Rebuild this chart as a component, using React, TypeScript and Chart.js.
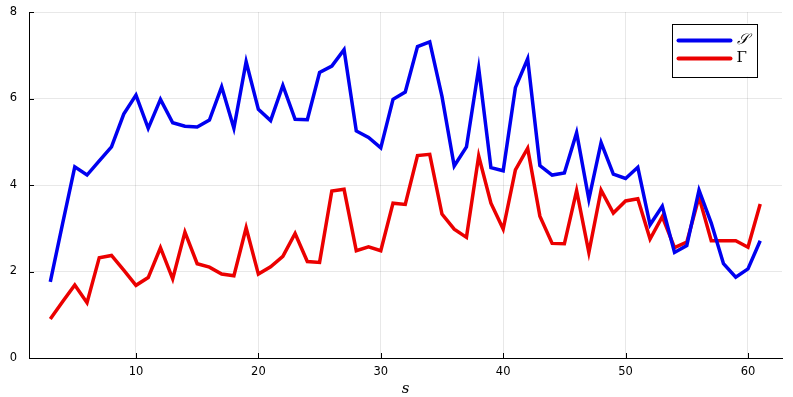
import React, { useEffect, useRef } from "react";
import { Chart, registerables } from "chart.js";

Chart.register(...registerables);

const sValues: number[] = Array.from({ length: 59 }, (_, i) => i + 3);
const seriesS: number[] = [
  1.76, 3.10, 4.42, 4.23, 4.56, 4.88, 5.64, 6.08, 5.31, 5.98,
  5.44, 5.36, 5.34, 5.50, 6.27, 5.31, 6.85, 5.75, 5.49, 6.30,
  5.52, 5.51, 6.60, 6.75, 7.13, 5.25, 5.10, 4.86, 5.98, 6.15,
  7.20, 7.31, 6.05, 4.44, 4.88, 6.70, 4.40, 4.33, 6.25, 6.92,
  4.45, 4.23, 4.28, 5.21, 3.67, 4.98, 4.25, 4.15, 4.41, 3.08,
  3.51, 2.44, 2.60, 3.88, 3.12, 2.18, 1.87, 2.06, 2.71,
];
const seriesGamma: number[] = [
  0.90, 1.30, 1.69, 1.28, 2.32, 2.37, 2.03, 1.68, 1.86, 2.55,
  1.83, 2.91, 2.18, 2.10, 1.94, 1.90, 3.01, 1.94, 2.11, 2.35,
  2.88, 2.23, 2.21, 3.86, 3.90, 2.48, 2.57, 2.48, 3.58, 3.55,
  4.68, 4.71, 3.33, 2.98, 2.79, 4.67, 3.58, 2.98, 4.35, 4.85,
  3.28, 2.65, 2.64, 3.87, 2.44, 3.88, 3.35, 3.63, 3.68, 2.75,
  3.27, 2.55, 2.68, 3.72, 2.71, 2.71, 2.71, 2.56, 3.56,
];
const seriesLabels: string[] = ["\u{1D4AE}", "\u0393"];
const xTicks: number[] = [10, 20, 30, 40, 50, 60];
const yTicks: number[] = [0, 2, 4, 6, 8];

const tickMarks = {
  id: "tickMarks",
  afterDraw(chart: any) {
    const { ctx, chartArea, scales } = chart;
    ctx.save();
    ctx.strokeStyle = "#000";
    ctx.lineWidth = 1;
    ctx.beginPath();
    for (const v of xTicks) {
      const px = Math.round(scales.x.getPixelForValue(v)) + 0.5;
      ctx.moveTo(px, chartArea.bottom);
      ctx.lineTo(px, chartArea.bottom - 5);
    }
    for (const v of yTicks) {
      const py = Math.round(scales.y.getPixelForValue(v)) + 0.5;
      ctx.moveTo(chartArea.left, py);
      ctx.lineTo(chartArea.left + 5, py);
    }
    ctx.stroke();
    ctx.restore();
  },
};

const boxLegend = {
  id: "boxLegend",
  afterDraw(chart: any) {
    const { ctx, chartArea } = chart;
    const right = chartArea.right - 25.5;
    const left = right - 85;
    const top = chartArea.top + 11.5;
    const h = 53;
    ctx.save();
    ctx.fillStyle = "#fff";
    ctx.fillRect(left, top, right - left, h);
    ctx.strokeStyle = "#000";
    ctx.lineWidth = 1;
    ctx.strokeRect(Math.round(left) + 0.5, Math.round(top) + 0.5, right - left, h);
    chart.data.datasets.forEach((ds: any, i: number) => {
      const y = top + 17 + i * 18;
      ctx.strokeStyle = ds.borderColor;
      ctx.lineWidth = 4;
      ctx.lineCap = "round";
      ctx.beginPath();
      ctx.moveTo(left + 7, y);
      ctx.lineTo(left + 59, y);
      ctx.stroke();
      ctx.fillStyle = "#000";
      ctx.textBaseline = "middle";
      ctx.textAlign = "left";
      ctx.font = i === 0 ? "italic 15px 'DejaVu Serif', serif" : "15px 'DejaVu Serif', serif";
      ctx.fillText(ds.label, left + 65, y);
    });
    ctx.restore();
  },
};

export default function App() {
  const ref = useRef<HTMLCanvasElement | null>(null);
  useEffect(() => {
    if (!ref.current) return;
    const chart = new Chart(ref.current, {
      type: "line",
      data: {
        datasets: [
          {
            label: seriesLabels[0],
            data: sValues.map((x, i) => ({ x, y: seriesS[i] })),
            borderColor: "rgb(0,0,240)",
            backgroundColor: "rgb(0,0,240)",
            borderWidth: 3.5,
            pointRadius: 0,
            tension: 0,
          },
          {
            label: seriesLabels[1],
            data: sValues.map((x, i) => ({ x, y: seriesGamma[i] })),
            borderColor: "rgb(235,0,0)",
            backgroundColor: "rgb(235,0,0)",
            borderWidth: 3.5,
            pointRadius: 0,
            tension: 0,
          },
        ],
      },
      options: {
        animation: false,
        responsive: false,
        maintainAspectRatio: false,
        layout: { padding: { left: 0, right: 11, top: 12, bottom: 0 } },
        plugins: {
          legend: { display: false },
          tooltip: { enabled: false },
        },
        scales: {
          x: {
            type: "linear",
            min: 1.26,
            max: 62.78,
            afterBuildTicks: (s: any) => {
              s.ticks = xTicks.map((v) => ({ value: v }));
            },
            afterFit: (s: any) => {
              s.height = 39;
              s.paddingLeft = 0;
              s.paddingRight = 0;
            },
            grid: { color: "rgba(0,0,0,0.09)", lineWidth: 1, drawTicks: false },
            border: { color: "#000", width: 1 },
            ticks: {
              color: "#000",
              padding: 7,
              maxRotation: 0,
              font: { family: "'DejaVu Sans', sans-serif", size: 11.5 },
            },
            title: {
              display: true,
              text: "s",
              color: "#000",
              padding: { top: 0, bottom: 0 },
              font: { family: "'DejaVu Serif', serif", style: "italic", size: 15, lineHeight: 1.07 },
            },
          },
          y: {
            type: "linear",
            min: 0,
            max: 8,
            afterBuildTicks: (s: any) => {
              s.ticks = yTicks.map((v) => ({ value: v }));
            },
            afterFit: (s: any) => {
              s.width = 29;
              s.paddingTop = 0;
              s.paddingBottom = 0;
            },
            grid: { color: "rgba(0,0,0,0.09)", lineWidth: 1, drawTicks: false },
            border: { color: "#000", width: 1 },
            ticks: {
              color: "#000",
              padding: 12,
              font: { family: "'DejaVu Sans', sans-serif", size: 11.5 },
            },
          },
        },
      },
      plugins: [tickMarks, boxLegend],
    });
    return () => chart.destroy();
  }, []);
  return (
    <div style={{ position: "fixed", left: 0, top: 0, width: 793, height: 397, background: "#fff" }}>
      <canvas ref={ref} width={793} height={397} style={{ display: "block" }} />
    </div>
  );
}
